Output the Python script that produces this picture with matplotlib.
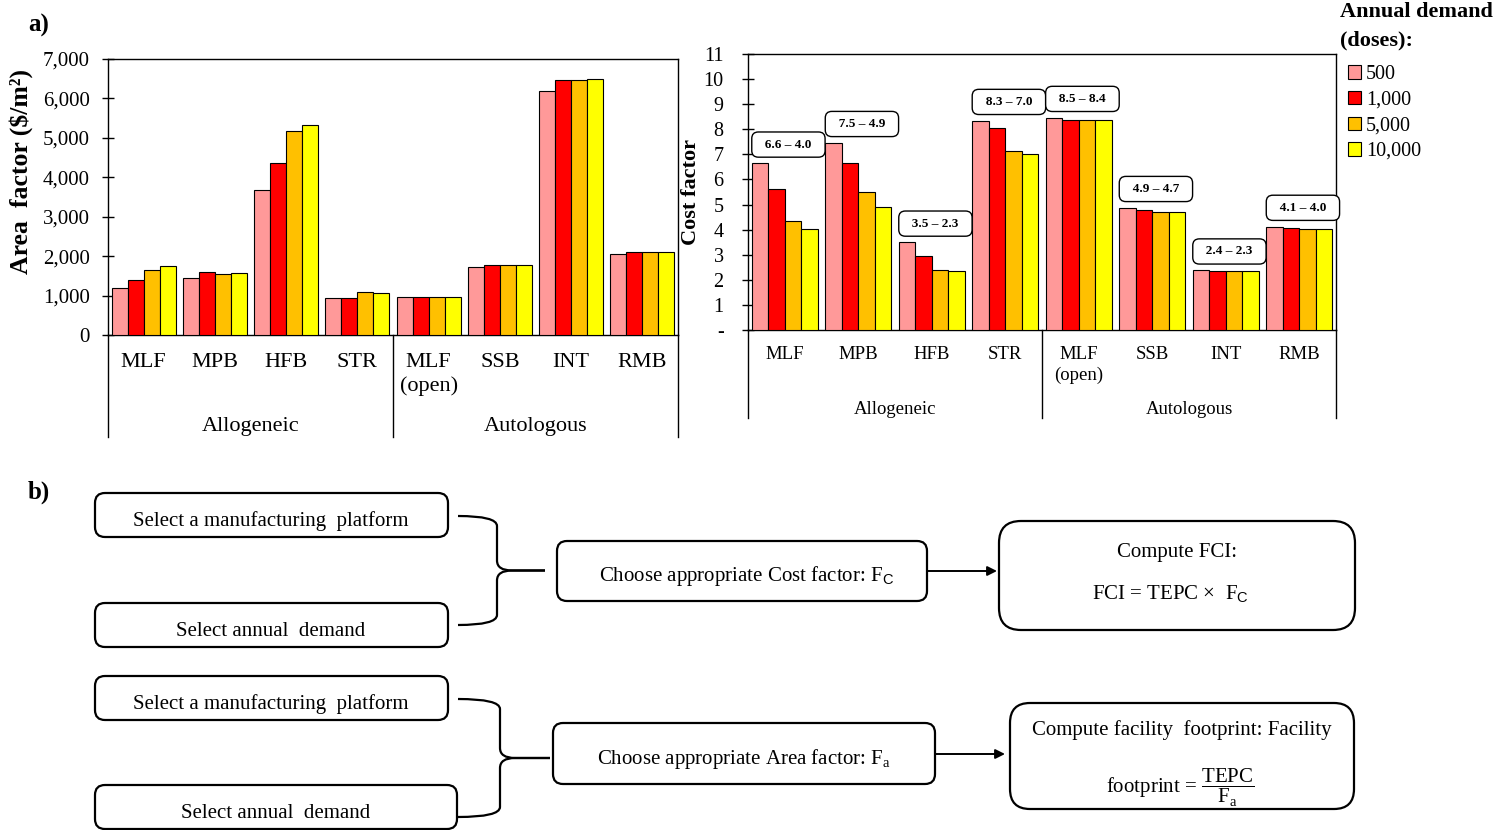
import numpy as np
import matplotlib
matplotlib.use("Agg")
import matplotlib.pyplot as plt
from matplotlib.patches import FancyBboxPatch, Patch, PathPatch
from matplotlib.path import Path
from matplotlib.ticker import FuncFormatter, MultipleLocator

plt.rcParams["font.family"] = ["Liberation Serif", "DejaVu Serif"]
plt.rcParams["mathtext.fontset"] = "custom"
plt.rcParams["mathtext.rm"] = "Liberation Serif"
plt.rcParams["mathtext.sf"] = "Liberation Sans"

W, H = 1495, 830

platforms = ["MLF", "MPB", "HFB", "STR", "MLF\n(open)", "SSB", "INT", "RMB"]
groups = ["Allogeneic", "Autologous"]
demand_labels = ["500", "1,000", "5,000", "10,000"]
colors = ["#FF9999", "#FF0000", "#FFC000", "#FFFF00"]

# area factor ($/m2) per platform, one list per annual demand
area_500 = [1180, 1450, 3690, 940, 970, 1720, 6200, 2050]
area_1000 = [1390, 1600, 4350, 940, 970, 1780, 6470, 2100]
area_5000 = [1660, 1540, 5180, 1090, 970, 1780, 6470, 2100]
area_10000 = [1750, 1570, 5330, 1060, 970, 1780, 6500, 2100]

# cost factor per platform, one list per annual demand
cost_500 = [6.64, 7.46, 3.49, 8.34, 8.46, 4.87, 2.38, 4.12]
cost_1000 = [5.60, 6.65, 2.93, 8.06, 8.38, 4.78, 2.34, 4.06]
cost_5000 = [4.34, 5.51, 2.39, 7.12, 8.38, 4.71, 2.34, 4.01]
cost_10000 = [4.02, 4.91, 2.34, 7.03, 8.36, 4.71, 2.34, 4.01]


def fy(y):
    # pixel row (from top) -> bottom-up coordinate of the overlay axes
    return H - y


def bar_chart(ax, series, fs, tick_fs, pad, name_y, group_y, sep_y):
    x = np.arange(len(platforms))
    width = 0.225
    for k, (vals, col) in enumerate(zip(series, colors)):
        ax.bar(x + (k - 1.5) * width, vals, width, color=col,
               edgecolor="black", linewidth=0.8, zorder=3)
    ax.set_xlim(-0.5, len(platforms) - 0.5)
    ax.set_xticks([])
    ax.tick_params(axis="y", direction="inout", length=9, width=1,
                   labelsize=tick_fs, pad=pad)
    for s in ax.spines.values():
        s.set_linewidth(1)

    tr = ax.get_xaxis_transform()
    for i, name in enumerate(platforms):
        ax.text(i, name_y, name, transform=tr, ha="center", va="top",
                fontsize=fs, linespacing=1.3)
    for j, g in enumerate(groups):
        ax.text(1.5 + 4 * j, group_y, g, transform=tr, ha="center",
                va="center", fontsize=fs)
    for xs in (-0.5, 3.5, 7.5):
        ax.plot([xs, xs], [0, sep_y], transform=tr, color="black", lw=1,
                clip_on=False)


def draw_box(ax, x0, y0, x1, y1, r=10):
    box = FancyBboxPatch((x0, fy(y1)), x1 - x0, y1 - y0,
                         boxstyle="round,pad=0,rounding_size=%d" % r,
                         fc="white", ec="black", lw=1.6)
    ax.add_patch(box)


def label(ax, x, y, s, fs=15):
    ax.text(x, fy(y), s, ha="center", va="center", fontsize=fs, zorder=4)


def draw_brace(ax, x0, xm, xt, ytop, ybot):
    ymid = (ytop + ybot) / 2
    for ya, sgn in ((ytop, 1), (ybot, -1)):
        verts = [(x0, ya), (xm, ya), (xm, ya + sgn * 10),
                 (xm, ymid - sgn * 10), (xm, ymid), (xm + 15, ymid),
                 (xt, ymid)]
        codes = [Path.MOVETO, Path.CURVE3, Path.CURVE3, Path.LINETO,
                 Path.CURVE3, Path.CURVE3, Path.LINETO]
        verts = [(vx, fy(vy)) for vx, vy in verts]
        ax.add_patch(PathPatch(Path(verts, codes), fc="none", ec="black",
                               lw=1.6))


def draw_arrow(ax, x0, x1, y):
    ax.annotate("", xy=(x1, fy(y)), xytext=(x0, fy(y)),
                arrowprops=dict(arrowstyle="-|>", color="black", lw=1.4,
                                mutation_scale=14, shrinkA=0, shrinkB=0))


def flowchart(ax):
    # cost factor row
    draw_box(ax, 95, 493, 448, 537)
    label(ax, 271, 521, "Select a manufacturing  platform")
    draw_box(ax, 95, 603, 448, 647)
    label(ax, 271, 631, "Select annual  demand")
    draw_brace(ax, 458, 497, 545, 516, 625)
    draw_box(ax, 557, 541, 927, 601)
    label(ax, 747, 576, r"Choose appropriate Cost factor: F$_\mathsf{C}$")
    draw_arrow(ax, 927, 997, 571)
    draw_box(ax, 999, 521, 1355, 630, r=22)
    label(ax, 1177, 553, "Compute FCI:")
    label(ax, 1170, 594, r"FCI = TEPC ×  F$_\mathsf{C}$")

    # area factor row
    draw_box(ax, 95, 676, 448, 720)
    label(ax, 271, 704, "Select a manufacturing  platform")
    draw_box(ax, 95, 785, 457, 829)
    label(ax, 276, 813, "Select annual  demand")
    draw_brace(ax, 458, 500, 550, 699, 817)
    draw_box(ax, 553, 723, 935, 784)
    label(ax, 744, 759, r"Choose appropriate Area factor: F$_\mathrm{a}$")
    draw_arrow(ax, 935, 1005, 754)
    draw_box(ax, 1010, 703, 1354, 809, r=20)
    label(ax, 1182, 730, "Compute facility  footprint: Facility")
    label(ax, 1180, 788,
          r"footprint = $\dfrac{\mathrm{TEPC}}{\mathrm{F}_\mathrm{a}}$")


def main():
    fig = plt.figure(figsize=(W / 100, H / 100), dpi=100)

    # overlay in pixel units for panel letters and the flowchart
    ov = fig.add_axes([0, 0, 1, 1])
    ov.set_xlim(0, W)
    ov.set_ylim(0, H)
    ov.axis("off")
    ov.text(28, fy(25), "a)", fontsize=18, fontweight="bold", va="center")
    ov.text(28, fy(492), "b)", fontsize=18, fontweight="bold", va="center")
    flowchart(ov)

    # area factor chart
    ax1 = fig.add_axes([108 / W, 1 - 335 / H, 570 / W, 276 / H])
    bar_chart(ax1, [area_500, area_1000, area_5000, area_10000], 16, 15,
              8.5, -0.065, -0.333, -0.37)
    ax1.set_ylim(0, 7000)
    ax1.yaxis.set_major_locator(MultipleLocator(1000))
    ax1.yaxis.set_major_formatter(FuncFormatter(lambda v, p: f"{v:,.0f}"))
    ax1.set_ylabel(r"Area  factor (\$/m²)", fontsize=18.5, fontweight="bold")
    ax1.yaxis.set_label_coords(-0.131, 0.594)

    # cost factor chart
    ax2 = fig.add_axes([748 / W, 1 - 330 / H, 588 / W, 276 / H])
    cost = [cost_500, cost_1000, cost_5000, cost_10000]
    bar_chart(ax2, cost, 13.5, 14.5, 13, -0.058, -0.287, -0.319)
    ax2.set_ylim(0, 11)
    ax2.yaxis.set_major_locator(MultipleLocator(1))
    ax2.yaxis.set_major_formatter(
        FuncFormatter(lambda v, p: "-" if v == 0 else f"{v:.0f}"))
    ax2.set_ylabel("Cost factor", fontsize=16, fontweight="bold")
    ax2.yaxis.set_label_coords(-0.08, 0.5)

    # range labels (highest to lowest demand value) above each platform
    for i in range(len(platforms)):
        vals = [c[i] for c in cost]
        hi, lo = max(vals), min(vals)
        ax2.text(i + 0.05, hi + 0.75, f"  {hi:.1f} – {lo:.1f}  ",
                 ha="center", va="center", fontsize=9.5, fontweight="bold",
                 bbox=dict(boxstyle="round,pad=0.5", fc="white",
                           ec="black", lw=1), zorder=5)

    # legend: title as two text lines, entries below
    fig.text(1340 / W, 1 - 12 / H, "Annual demand", fontsize=16,
             fontweight="bold", va="center")
    fig.text(1340 / W, 1 - 40 / H, "(doses):", fontsize=16,
             fontweight="bold", va="center")
    handles = [Patch(fc=c, ec="black", lw=0.8) for c in colors]
    fig.legend(handles, demand_labels, loc="upper left",
               bbox_to_anchor=(1340 / W, 1 - 57 / H), frameon=False,
               borderaxespad=0, fontsize=14.5, handlelength=0.65,
               handleheight=0.65, handletextpad=0.25, labelspacing=0.33)

    fig.savefig("out.png", dpi=100)
    plt.close(fig)


if __name__ == "__main__":
    main()
